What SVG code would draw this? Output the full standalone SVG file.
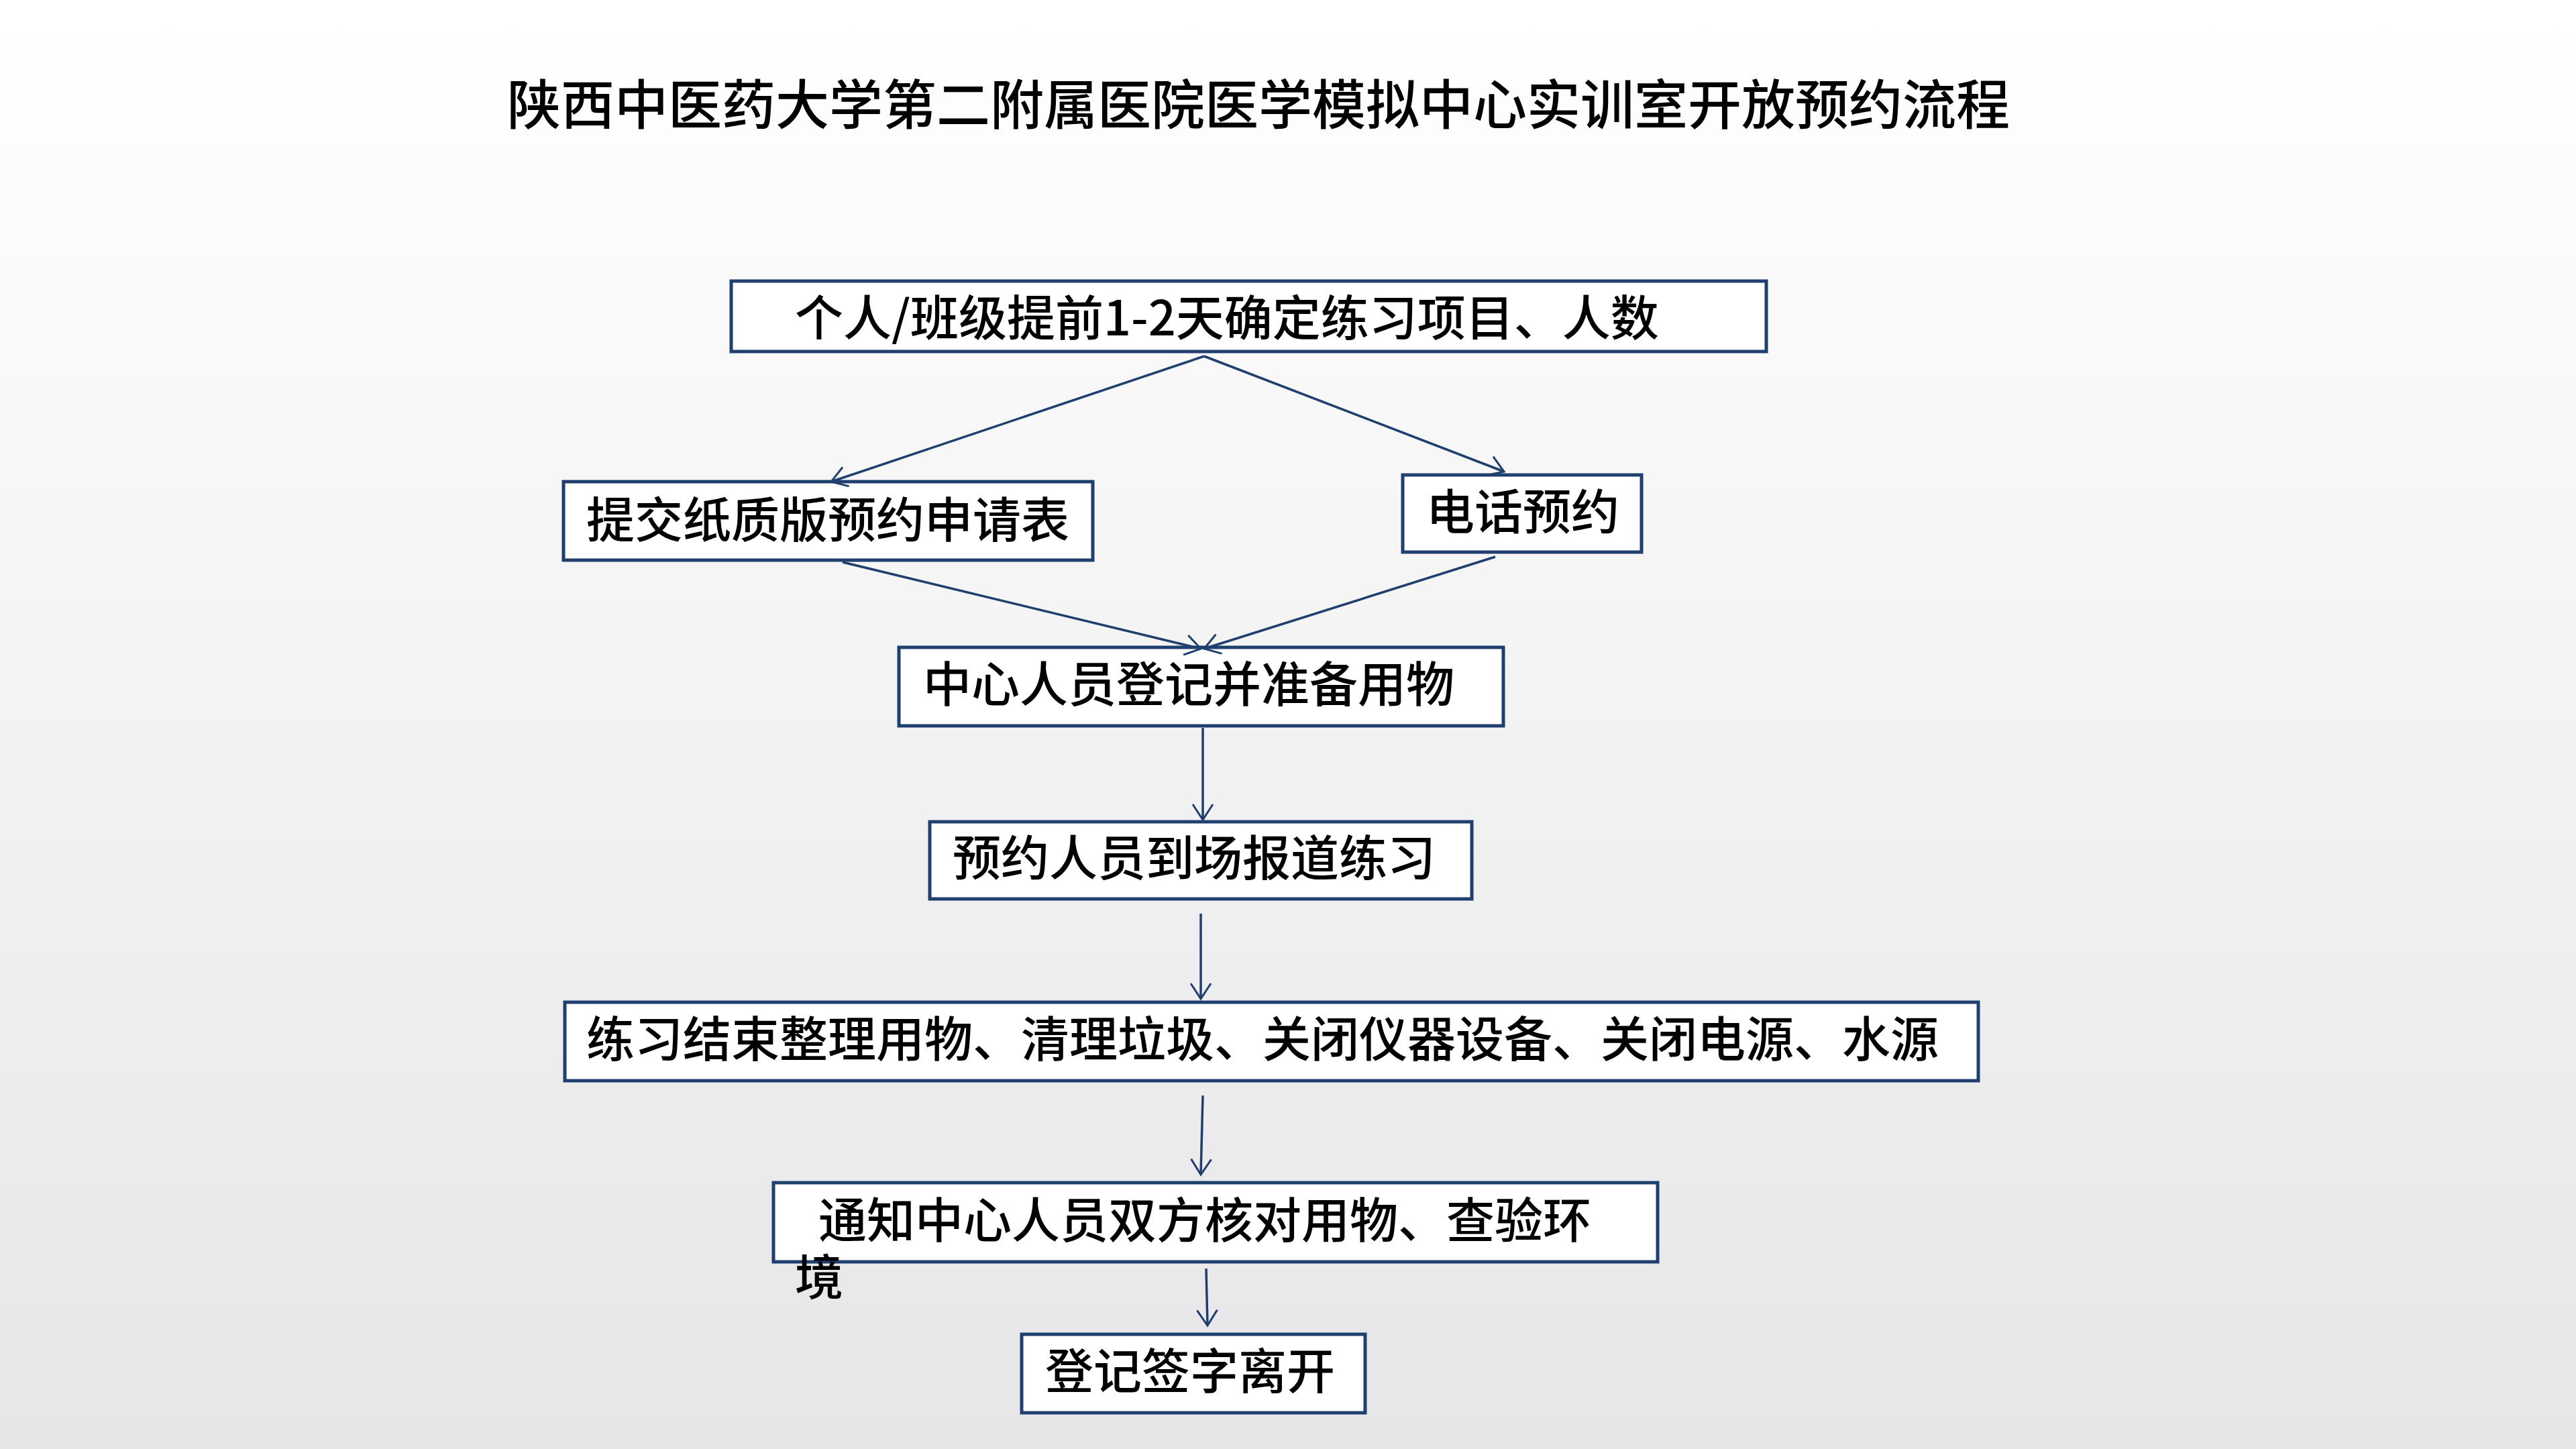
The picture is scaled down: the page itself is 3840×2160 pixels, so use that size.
<svg xmlns="http://www.w3.org/2000/svg" width="3840" height="2160" viewBox="0 0 3840 2160">
<defs>
<linearGradient id="bg" x1="0" y1="0" x2="0" y2="1"><stop offset="0" stop-color="#ffffff"/><stop offset="1" stop-color="#e6e6e8"/></linearGradient>
<marker id="ah" viewBox="0 0 10 10" refX="9" refY="5" markerWidth="10" markerHeight="10" markerUnits="userSpaceOnUse" orient="auto" overflow="visible"><path d="M-14,-10 L9,5 L-14,20" fill="none" stroke="#1f3f6e" stroke-width="3"/></marker>
<style>
.b{fill:#fff;stroke:#1f3f6e;stroke-width:5}
.t{font-family:"Noto Sans CJK SC","Noto Sans",sans-serif;font-size:72px;font-weight:500;fill:#000}
.c line{stroke:#1f3f6e;stroke-width:3.5;marker-end:url(#ah)}
</style>
</defs>
<rect width="3840" height="2160" fill="url(#bg)"/>
<text x="1876" y="185" text-anchor="middle" class="t" style="font-size:80px">陕西中医药大学第二附属医院医学模拟中心实训室开放预约流程</text>
<g id="n1"><rect class="b" x="1090" y="419" width="1543" height="105"/><text class="t" x="1185" y="500">个人/班级提前1-2天确定练习项目、人数</text></g>
<g id="n2"><rect class="b" x="840" y="718" width="789" height="117"/><text class="t" x="874" y="801">提交纸质版预约申请表</text></g>
<g id="n3"><rect class="b" x="2091" y="708" width="356" height="115"/><text class="t" x="2126" y="789">电话预约</text></g>
<g id="n4"><rect class="b" x="1340" y="965" width="901" height="117"/><text class="t" x="1376" y="1046">中心人员登记并准备用物</text></g>
<g id="n5"><rect class="b" x="1386" y="1225" width="808" height="115"/><text class="t" x="1420" y="1305">预约人员到场报道练习</text></g>
<g id="n6"><rect class="b" x="842" y="1494" width="2107" height="117"/><text class="t" x="874" y="1575">练习结束整理用物、清理垃圾、关闭仪器设备、关闭电源、水源</text></g>
<g id="n7"><rect class="b" x="1153" y="1763" width="1318" height="118"/><text class="t" x="1220" y="1845">通知中心人员双方核对用物、查验环</text><text class="t" x="1185" y="1930">境</text></g>
<g id="n8"><rect class="b" x="1523" y="1989" width="512" height="117"/><text class="t" x="1558" y="2070">登记签字离开</text></g>
<g class="c" id="connectors">
<line x1="1795" y1="531" x2="1239" y2="718"/>
<line x1="1795" y1="531" x2="2242" y2="703"/>
<line x1="1256" y1="838" x2="1790" y2="967"/>
<line x1="2229" y1="830" x2="1795" y2="967"/>
<line x1="1793" y1="1085" x2="1793" y2="1222"/>
<line x1="1790" y1="1362" x2="1790" y2="1489"/>
<line x1="1793" y1="1633" x2="1790" y2="1751"/>
<line x1="1798" y1="1891" x2="1800" y2="1976"/>
</g>
</svg>
